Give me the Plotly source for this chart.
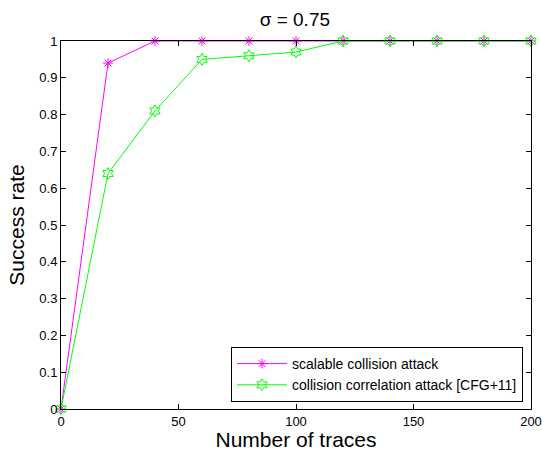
import plotly.graph_objects as go

traces = [0, 20, 40, 60, 80, 100, 120, 140, 160, 180, 200]
scalable = [0, 0.94, 1, 1, 1, 1, 1, 1, 1, 1, 1]
correlation = [0, 0.64, 0.81, 0.95, 0.96, 0.97, 1, 1, 1, 1, 1]
x_ticks = [0, 50, 100, 150, 200]
y_ticks = [0, 0.1, 0.2, 0.3, 0.4, 0.5, 0.6, 0.7, 0.8, 0.9, 1]
y_tick_text = ["0", "0.1", "0.2", "0.3", "0.4", "0.5", "0.6", "0.7", "0.8", "0.9", "1"]

FONT = "Liberation Sans, Arial"

fig = go.Figure()
fig.add_trace(go.Scatter(
    x=traces, y=scalable, mode="lines+markers", name="scalable collision attack",
    line=dict(color="#ff00ff", width=1),
    marker=dict(symbol="asterisk-open", size=8, color="#ff00ff", line=dict(color="#ff00ff", width=1)),
    cliponaxis=False,
))
fig.add_trace(go.Scatter(
    x=traces, y=correlation, mode="lines+markers", name="collision correlation attack [CFG+11]",
    line=dict(color="#00ff00", width=1),
    marker=dict(symbol="hexagram-open", size=9, color="#00ff00", line=dict(color="#00ff00", width=1)),
    cliponaxis=False,
))

axis_common = dict(
    showgrid=False, zeroline=False, showline=True, linecolor="black", linewidth=1,
    mirror="ticks", ticks="inside", ticklen=5, tickcolor="black", automargin=False,
    tickfont=dict(family=FONT, size=13, color="black"),
)
fig.update_xaxes(range=[0, 200], tickvals=x_ticks,
                 title=dict(text="Number of traces", font=dict(family=FONT, size=21, color="black"), standoff=3),
                 **axis_common)
fig.update_yaxes(range=[0, 1], tickvals=y_ticks, ticktext=y_tick_text,
                 title=dict(text="Success rate", font=dict(family=FONT, size=21, color="black"), standoff=8),
                 **axis_common)

fig.update_layout(
    width=542, height=451,
    margin=dict(l=61, r=11, t=41, b=42),
    paper_bgcolor="white", plot_bgcolor="white",
    title=dict(text="σ = 0.75", x=0.544, xanchor="center", y=0.958, yanchor="middle",
               font=dict(family=FONT, size=19, color="black")),
    legend=dict(x=0.983, y=0.019, xanchor="right", yanchor="bottom",
                bordercolor="black", borderwidth=1, bgcolor="white",
                font=dict(family=FONT, size=14, color="black"),
                tracegroupgap=0, itemwidth=50),
    showlegend=True,
)

fig.write_html("out.html", config={"displayModeBar": False},
               post_script="document.body.style.margin='0';document.body.style.overflow='hidden';")
